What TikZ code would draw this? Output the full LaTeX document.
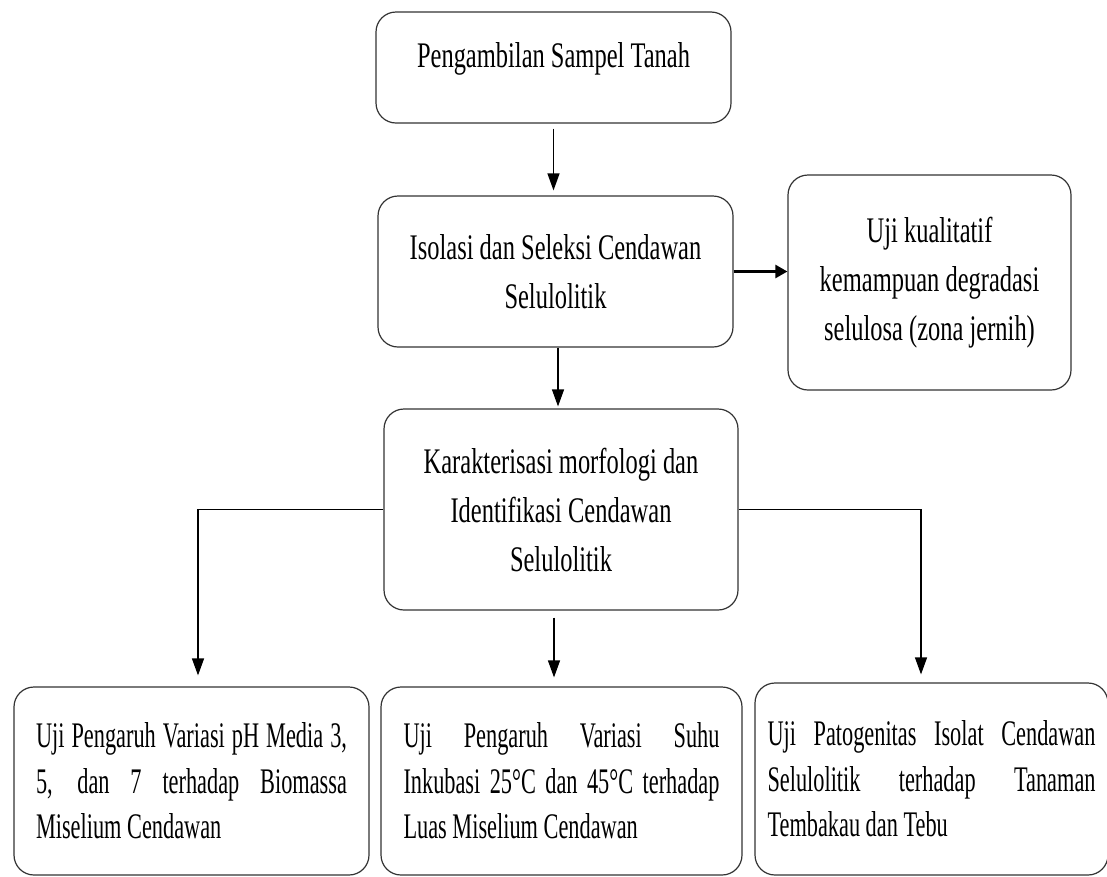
\documentclass[tikz,border=0pt]{standalone}
\usepackage{fontspec}
\setmainfont{Liberation Serif}
\newfontfamily\hurufatas[FakeStretch=0.68]{Liberation Serif}
\newfontfamily\hurufbawah[FakeStretch=0.62]{Liberation Serif}
\usetikzlibrary{arrows.meta}

\tikzset{
    kotak/.style={draw=black!80, line width=1.2pt, rounded corners=20pt, inner sep=0pt, align=center, font=\hurufatas\fontsize{36}{49}\selectfont},
    kotakuji/.style={kotak, text width=#1, align=justify, font=\hurufbawah\fontsize{36}{45.5}\selectfont},
    panah/.style={-{Triangle[length=17pt,width=12pt]}, line width=1.3pt},
}

\begin{document}
\begin{tikzpicture}[x=1pt,y=-1pt]
        \useasboundingbox (0,0) rectangle (1107,876);
        % kotak atas: sampel -> isolasi -> karakterisasi
        \node[kotak, minimum width=355pt, minimum height=111pt, text height=25pt, text depth=25pt] (sampel) at (553.5,67.5) {Pengambilan Sampel Tanah};
        \node[kotak, minimum width=355pt, minimum height=151pt] (isolasi) at (555.5,271.5) {Isolasi dan Seleksi Cendawan\\Selulolitik};
        \node[kotak, minimum width=283pt, minimum height=215pt] (kualitatif) at (929.5,282.5) {Uji kualitatif\\kemampuan degradasi\\selulosa (zona jernih)};
        \node[kotak, minimum width=354pt, minimum height=201pt] (karakter) at (561,509.5) {Karakterisasi morfologi dan\\Identifikasi Cendawan\\Selulolitik};
        % kotak bawah: #1 lebar teks
        \node[kotakuji=311pt, minimum width=355pt, minimum height=188pt] (ujiph) at (191.5,781) {Uji Pengaruh Variasi pH Media 3,\linebreak 5, dan 7 terhadap Biomassa\linebreak Miselium Cendawan};
        \node[kotakuji=316pt, minimum width=361pt, minimum height=188pt] (ujisuhu) at (561.5,781) {Uji Pengaruh Variasi Suhu\linebreak Inkubasi 25°C dan 45°C terhadap\linebreak Luas Miselium Cendawan};
        \node[kotakuji=328pt, minimum width=353pt, minimum height=192pt] (ujipatogen) at (931.5,779) {Uji Patogenitas Isolat Cendawan\linebreak Selulolitik terhadap Tanaman\linebreak Tembakau dan Tebu};
        % panah
        \draw[panah, shorten <=5pt, shorten >=5pt] (sampel.south) -- (sampel.south |- isolasi.north);
        \draw[line width=2.5pt, -{Triangle[length=12pt,width=13pt]}] (isolasi.east) -- (isolasi.east -| kualitatif.west);
        \draw[panah, shorten >=2pt] ([xshift=2.5pt]isolasi.south) -- ([xshift=2.5pt]isolasi.south |- karakter.north);
        \draw[panah, shorten >=11pt] (karakter.west) -| ([xshift=6.5pt]ujiph.north);
        \draw[panah, shorten <=7pt, shorten >=9pt] ([xshift=-7pt]karakter.south) -- ([xshift=-7pt]karakter.south |- ujisuhu.north);
        \draw[panah, shorten >=8pt] (karakter.east) -| ([xshift=-10.5pt]ujipatogen.north);
    \end{tikzpicture}
\end{document}
